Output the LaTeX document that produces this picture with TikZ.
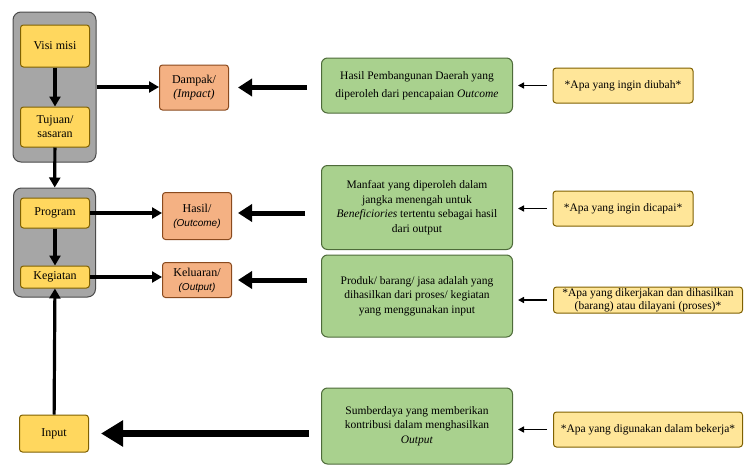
\documentclass[tikz,border=0pt]{standalone}
\usepackage{fontspec}
\setmainfont{Liberation Serif}
\newfontfamily\sanslat{Liberation Sans}
\usetikzlibrary{arrows.meta, positioning}
\definecolor{GrpGray}{HTML}{A6A6A6}
\definecolor{GrpLine}{HTML}{4A4A4A}
\definecolor{BoxYellow}{HTML}{FFD75E}
\definecolor{BoxBrown}{HTML}{7F6000}
\definecolor{BoxOrange}{HTML}{F4B183}
\definecolor{OrangeLine}{HTML}{8A4A1E}
\definecolor{BoxGreen}{HTML}{A9D18E}
\definecolor{GreenLine}{HTML}{4E6B3A}
\definecolor{NoteYellow}{HTML}{FFE699}

\begin{document}
\begin{tikzpicture}[
        x=1pt, y=-1pt, font=\rmfamily\fontsize{12}{14}\selectfont,
        grp/.style={draw=GrpLine, fill=GrpGray, line width=1pt, rounded corners=8pt},
        yb/.style={draw=BoxBrown, fill=BoxYellow, line width=1pt, rounded corners=3pt,
                   align=center, inner sep=1pt, minimum width=69pt},
        ob/.style={draw=OrangeLine, fill=BoxOrange, line width=1pt, rounded corners=3pt,
                   align=center, inner sep=1pt, minimum width=69pt},
        gb/.style={draw=GreenLine, fill=BoxGreen, line width=1pt, rounded corners=6pt,
                   align=center, inner sep=1pt, minimum width=191pt,
                   font=\rmfamily\fontsize{11.5}{14.5}\selectfont},
        nb/.style={draw=BoxBrown, fill=NoteYellow, line width=1pt, rounded corners=3pt,
                   align=center, inner sep=1pt, font=\rmfamily\fontsize{11.5}{13.5}\selectfont},
        a/.style={-{Triangle[length=10pt, width=11pt]}, line width=3.2pt},
        tk/.style={-{Triangle[length=14pt, width=17pt]}, line width=5pt},
        th/.style={-{Triangle[length=6pt, width=6pt]}, line width=1.6pt},
      ]
        \useasboundingbox (0,0) rectangle (744,466);
        % kolom kiri
        \node[grp, minimum width=83pt, minimum height=150pt] (grp1) at (54.5,87) {};
        \node[yb, minimum height=42pt] (visi)   at (55,46)  {Visi misi};
        \node[yb, minimum height=40pt] (tujuan) at (55,127) {Tujuan/\\sasaran};
        \node[grp, minimum width=82pt, minimum height=109pt] (grp2) at (54.5,242.5) {};
        \node[yb, minimum height=30pt] (program)  at (55,213)   {Program};
        \node[yb, minimum height=22pt] (kegiatan) at (55,277)   {Kegiatan};
        \node[yb, minimum height=37pt] (input)    at (54,433.5) {Input};
        % kolom tengah
        \node[ob, minimum height=45pt] (dampak)   at (194,87.5) {Dampak/\\\textit{(Impact)}};
        \node[ob, minimum height=47pt] (hasil)    at (197,216)  {Hasil/\\{\sanslat\itshape\fontsize{10}{12}\selectfont(Outcome)}};
        \node[ob, minimum height=35pt] (keluaran) at (197,280)  {Keluaran/\\{\sanslat\itshape\fontsize{10}{12}\selectfont(Output)}};
        % keterangan
        \node[gb, minimum height=55pt] (g1) at (417,85.5) {Hasil Pembangunan Daerah yang\\[3pt]diperoleh dari pencapaian \textit{Outcome}};
        \node[gb, minimum height=84pt] (g2) at (417,207.5) {Manfaat yang diperoleh dalam\\jangka menengah untuk\\\textit{Beneficiories} tertentu sebagai hasil\\dari output};
        \node[gb, minimum height=82pt] (g3) at (417,296) {Produk/ barang/ jasa adalah yang\\dihasilkan dari proses/ kegiatan\\yang menggunakan input};
        \node[gb, minimum height=76pt] (g4) at (417,426) {Sumberdaya yang memberikan\\kontribusi dalam menghasilkan\\\textit{Output}};
        \node[nb, minimum width=140pt, minimum height=35pt] (n1) at (623,85.5)  {*Apa yang ingin diubah*};
        \node[nb, minimum width=140pt, minimum height=35pt] (n2) at (623,208.5) {*Apa yang ingin dicapai*};
        \node[nb, minimum width=189pt, minimum height=26pt] (n3) at (648,300)   {*Apa yang dikerjakan dan dihasilkan\\(barang) atau dilayani (proses)*};
        \node[nb, minimum width=189pt, minimum height=35pt] (n4) at (648,429.5) {*Apa yang digunakan dalam bekerja*};
        % alur kiri
        \draw[a] (visi) -- (tujuan);
        \draw[a] (tujuan) -- (grp2);
        \draw[a] (program) -- (kegiatan);
        \draw[a] (input) -- (kegiatan);
        \draw[a] (grp1.east) -- (grp1.east -| dampak.west);
        \draw[a] (program.east) -- (program.east -| hasil.west);
        \draw[a] (kegiatan.east) -- (kegiatan.east -| keluaran.west);
        % panah tebal
        \draw[tk, shorten <=14pt, shorten >=9pt] (dampak.east -| g1.west) -- (dampak.east);
        \draw[tk, shorten <=16pt, shorten >=6pt] (program.east -| g2.west) -- (program.east -| hasil.east);
        \draw[tk, shorten <=14pt, shorten >=6pt] (keluaran.east -| g3.west) -- (keluaran.east);
        \draw[-{Triangle[length=22pt, width=25pt]}, line width=7pt, shorten <=12pt, shorten >=12pt]
            (input.east -| g4.west) -- (input.east);
        % panah tipis
        \draw[th, shorten <=6pt, shorten >=5pt] (n1.west) -- (n1.west -| g1.east);
        \draw[th, shorten <=6pt, shorten >=5pt] (n2.west) -- (n2.west -| g2.east);
        \draw[th, shorten <=6pt, shorten >=5pt] (n3.west) -- (n3.west -| g3.east);
        \draw[th, shorten <=6pt, shorten >=5pt] (n4.west) -- (n4.west -| g4.east);
      \end{tikzpicture}
\end{document}
